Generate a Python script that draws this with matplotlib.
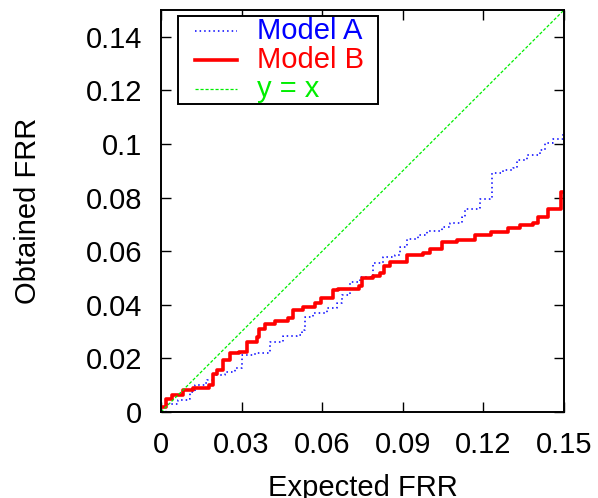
import matplotlib
matplotlib.use("Agg")
import matplotlib.pyplot as plt
from matplotlib.lines import Line2D
from matplotlib.patches import Rectangle

plt.rcParams['font.family'] = ['Liberation Sans', 'DejaVu Sans']

# Model A (dotted blue), step points
model_a_x = [0.0, 0.002, 0.0065, 0.010, 0.0108, 0.0127, 0.0164, 0.017, 0.0195, 0.0238,
             0.0275, 0.030, 0.035, 0.0406, 0.0455, 0.0505, 0.0524, 0.0536, 0.0567, 0.0617,
             0.0654, 0.0672, 0.0703, 0.074, 0.0784, 0.079, 0.0827, 0.0871, 0.089, 0.0914,
             0.0958, 0.0989, 0.1045, 0.1075, 0.1119, 0.1131, 0.1181, 0.1187, 0.1224, 0.1233,
             0.1274, 0.1311, 0.1324, 0.1361, 0.141, 0.143, 0.146, 0.1495, 0.150]
model_a_y = [0.0, 0.003, 0.0045, 0.005, 0.0076, 0.010, 0.0107, 0.012, 0.0138, 0.015,
             0.0163, 0.0213, 0.0221, 0.0262, 0.0284, 0.0286, 0.0306, 0.0356, 0.037, 0.0387,
             0.0408, 0.0437, 0.0486, 0.0502, 0.0507, 0.0555, 0.0577, 0.0586, 0.0617, 0.0644,
             0.066, 0.0675, 0.069, 0.0706, 0.0729, 0.0756, 0.076, 0.0793, 0.0797, 0.089,
             0.0903, 0.0912, 0.094, 0.0959, 0.0978, 0.1003, 0.1017, 0.1036, 0.1040]

# Model B (solid red)
model_b_x = [0.0, 0.002, 0.004, 0.0083, 0.012, 0.018, 0.0195, 0.021, 0.023, 0.0257,
             0.029, 0.032, 0.0356, 0.0365, 0.0387, 0.0424, 0.0474, 0.049, 0.053, 0.0573,
             0.0595, 0.064, 0.066, 0.0738, 0.0747, 0.079, 0.0815, 0.083, 0.0852, 0.0908,
             0.0917, 0.0976, 0.1, 0.1045, 0.110, 0.1169, 0.123, 0.129, 0.1336, 0.1386,
             0.1404, 0.1441, 0.1485, 0.149, 0.150]
model_b_y = [0.002, 0.0047, 0.0063, 0.0082, 0.0088, 0.010, 0.014, 0.0157, 0.0194, 0.0221,
             0.0225, 0.0262, 0.0281, 0.031, 0.0327, 0.034, 0.035, 0.038, 0.039, 0.0405,
             0.0426, 0.0455, 0.046, 0.047, 0.050, 0.0507, 0.0517, 0.0545, 0.0558, 0.056,
             0.0586, 0.0592, 0.061, 0.0635, 0.0642, 0.066, 0.0673, 0.0685, 0.0698, 0.0706,
             0.0729, 0.0756, 0.0756, 0.0822, 0.0822]

diag = [0.0, 0.15]

xticks = [0, 0.03, 0.06, 0.09, 0.12, 0.15]
xtick_labels = ['0', '0.03', '0.06', '0.09', '0.12', '0.15']
yticks = [0, 0.02, 0.04, 0.06, 0.08, 0.1, 0.12, 0.14]
ytick_labels = ['0', '0.02', '0.04', '0.06', '0.08', '0.1', '0.12', '0.14']

fs = 21
W, H = 598, 498

fig = plt.figure(figsize=(W / 100, H / 100), dpi=100)
ax = fig.add_axes([161 / W, 1 - 412 / H, 403 / W, 402 / H])

styles = [
    dict(color='#0000ff', lw=1.1, linestyle=(0, (1, 2))),
    dict(color='#ff0000', lw=2.6, linestyle='-'),
    dict(color='#00ee00', lw=0.9, linestyle=(0, (2.5, 1.5))),
]
names = ['Model A', 'Model B', 'y = x']

ax.step(model_a_x, model_a_y, where='post', **styles[0])
ax.step(model_b_x, model_b_y, where='post', **styles[1])
ax.plot(diag, diag, **styles[2])

ax.set_xlim(0, 0.15)
ax.set_ylim(0, 0.15)
ax.set_xticks(xticks)
ax.set_xticklabels(xtick_labels)
ax.set_yticks(yticks)
ax.set_yticklabels(ytick_labels)
ax.tick_params(direction='in', length=7, width=1, top=True, right=True,
               labelsize=fs, pad=14)
ax.tick_params(axis='y', pad=13.5)
for s in ax.spines.values():
    s.set_linewidth(1.4)

ax.set_xlabel('Expected FRR', fontsize=fs)
ax.set_ylabel('Obtained FRR', fontsize=fs)
ax.xaxis.set_label_coords(0.5, -0.155)
ax.yaxis.set_label_coords(-0.295, 0.5)

# legend box drawn by hand (gnuplot-like layout)
def fx(px):
    return px / W

def fy(py):
    return 1 - py / H

fig.patches.append(Rectangle((fx(178), fy(104)), fx(378) - fx(178), fy(16.5) - fy(104),
                             transform=fig.transFigure, facecolor='white',
                             edgecolor='black', lw=1.4, zorder=5))
row_y = [31, 60, 89]
for st, name, ry in zip(styles, names, row_y):
    fig.lines.append(Line2D([fx(195), fx(237)], [fy(ry), fy(ry)],
                            transform=fig.transFigure, zorder=6, **st))
    fig.text(fx(257), fy(ry), name, color=st['color'], fontsize=fs,
             ha='left', va='center', zorder=6)

fig.savefig('out.png', dpi=100)
